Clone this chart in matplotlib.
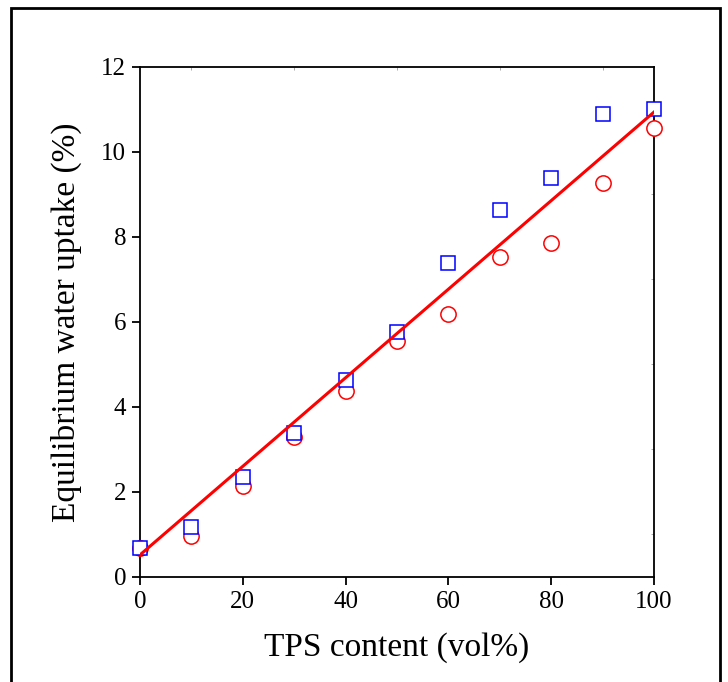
import numpy as np
import matplotlib.pyplot as plt
from matplotlib.patches import Rectangle

# TPS content (vol%)
tps = [0, 10, 20, 30, 40, 50, 60, 70, 80, 90, 100]
# equilibrium water uptake (%), two series
uptake_sq = [0.68, 1.18, 2.35, 3.39, 4.64, 5.76, 7.39, 8.64, 9.39, 10.89, 11.01]
uptake_ci = [0.68, 0.96, 2.14, 3.29, 4.38, 5.55, 6.19, 7.53, 7.86, 9.27, 10.56]
# linear fit drawn in the figure
fit_slope = 0.1042
fit_intercept = 0.52

plt.rcParams['font.family'] = ['Liberation Serif', 'DejaVu Serif']

fig = plt.figure(figsize=(7.28, 6.82), dpi=100)
ax = fig.add_axes([0.1923, 0.1540, 0.7061, 0.7478])

ax.plot(tps, uptake_ci, 'o', ms=11, mfc='white', mec='#ff0000', mew=1.1,
        ls='none', zorder=3, clip_on=False)
ax.plot(tps, uptake_sq, 's', ms=10, mfc='white', mec='#0000ff', mew=1.1,
        ls='none', zorder=4, clip_on=False)
# fit line sits on top of the markers
fit_x = np.array([0, 100])
ax.plot(fit_x, fit_intercept + fit_slope * fit_x, color='#ff0000', lw=2.2, zorder=5)

ax.set_xlim(0, 100)
ax.set_ylim(0, 12)
ax.set_xticks(range(0, 101, 20))
ax.set_yticks(range(0, 13, 2))
ax.set_xticks(range(10, 100, 20), minor=True)
ax.set_yticks(range(1, 12, 2), minor=True)
ax.tick_params(which='major', direction='out', length=6, width=1.3, labelsize=18, pad=4)
ax.tick_params(which='minor', direction='in', length=2, width=0.5, top=True, right=True,
               bottom=False, left=False, color='#888888')
for s in ax.spines.values():
    s.set_linewidth(1.3)

ax.set_xlabel('TPS content (vol%)', fontsize=24, labelpad=14)
ax.set_ylabel('Equilibrium water uptake (%)', fontsize=24, labelpad=14)

# outer frame around the figure
fig.patches.append(Rectangle((0.0145, -0.05), 0.974, 1.038, transform=fig.transFigure,
                             fill=False, lw=2, ec='black'))

fig.savefig('out.png', dpi=100)
